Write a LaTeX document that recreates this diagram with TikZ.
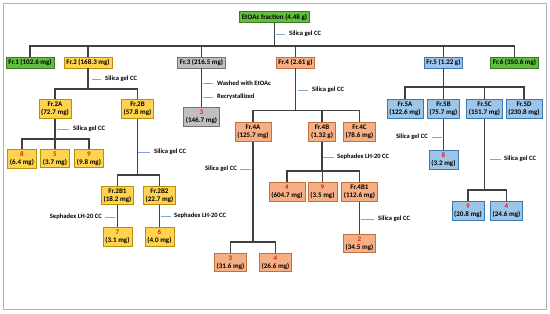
\documentclass[tikz,border=0pt]{standalone}
\usepackage{fontspec}
\setmainfont{Carlito}

\definecolor{fgreen}{HTML}{62BE40}
\definecolor{fgreenline}{HTML}{3A7A22}
\definecolor{fyellow}{HTML}{FDD34F}
\definecolor{fyellowline}{HTML}{B8900A}
\definecolor{fgray}{HTML}{BFBFBF}
\definecolor{fgrayline}{HTML}{737373}
\definecolor{forange}{HTML}{F6AE84}
\definecolor{forangeline}{HTML}{C2703E}
\definecolor{fblue}{HTML}{9CC5E8}
\definecolor{fblueline}{HTML}{3A78B4}
\definecolor{cpdred}{HTML}{E3201B}
\definecolor{linkgray}{HTML}{404040}
\definecolor{tickblue}{HTML}{7FA7D6}

\newcommand{\cpd}[1]{\textcolor{cpdred}{#1}}

\begin{document}
\begin{tikzpicture}[x=0.03cm, y=-0.03cm,
    box/.style={draw, line width=0.6pt, align=center, inner xsep=2pt, inner ysep=2pt,
                font=\bfseries\fontsize{6}{7}\selectfont},
    gbox/.style={box, fill=fgreen, draw=fgreenline},
    ybox/.style={box, fill=fyellow, draw=fyellowline},
    sbox/.style={box, fill=fgray, draw=fgrayline},
    obox/.style={box, fill=forange, draw=forangeline},
    bbox/.style={box, fill=fblue, draw=fblueline},
    note/.style={inner sep=0pt, font=\bfseries\fontsize{5.6}{6.6}\selectfont},
    link/.style={draw=linkgray, line width=1.1pt},
    tick/.style={draw=tickblue, line width=0.5pt}]

   \useasboundingbox (0,0) rectangle (550,314);
   \draw[gray!60, line width=0.8pt] (3,3) rectangle (546,309);

   % EtOAc fraction and first column
   \node[gbox] (etoac) at (274.5,17) {EtOAc fraction (4.48 g)};
   \node[note, anchor=west] (n0) at (289,34) {Silica gel CC};
   \draw[tick] (n0.west) ++(-4,0) -- ++(-9,0);
   \coordinate (b0) at (274.5,46);

   \node[gbox] (fr1) at (30,62.5) {Fr.1 (102.6 mg)};
   \node[ybox] (fr2) at (88,62.5) {Fr.2 (168.3 mg)};
   \node[sbox] (fr3) at (201.5,62.5) {Fr.3 (216.5 mg)};
   \node[obox] (fr4) at (295.5,62.5) {Fr.4 (2.61 g)};
   \node[bbox] (fr5) at (443.5,62.5) {Fr.5 (1.22 g)};
   \node[gbox] (fr6) at (514.5,62.5) {Fr.6 (350.6 mg)};

   \draw[link] (etoac) -- (b0);
   \foreach \c in {fr1,fr2,fr3,fr4,fr5,fr6} {
       \draw[link] (b0) -| (\c);
   }

   % Fr.2 branch
   \node[note, anchor=west] (n2) at (105,79) {Silica gel CC};
   \draw[tick] (n2.west) ++(-4,0) -- ++(-9,0);
   \coordinate (b2) at (88,89);
   \node[ybox] (fr2a) at (55,109) {Fr.2A\\(72.7 mg)};
   \node[ybox] (fr2b) at (137.5,109) {Fr.2B\\(57.8 mg)};
   \draw[link] (fr2) -- (b2);
   \foreach \c in {fr2a,fr2b} {
       \draw[link] (b2) -| (\c);
   }

   \node[note, anchor=west] (n2a) at (73,129) {Silica gel CC};
   \draw[tick] (n2a.west) ++(-4,0) -- ++(-12,0);
   \coordinate (b2a) at (55,139);
   \node[ybox] (c8a) at (22,158.5) {\cpd{8}\\(6.4 mg)};
   \node[ybox] (c5) at (55,158.5) {\cpd{5}\\(3.7 mg)};
   \node[ybox] (c9a) at (89,158.5) {\cpd{9}\\(9.8 mg)};
   \draw[link] (fr2a) -- (b2a);
   \foreach \c in {c8a,c5,c9a} {
       \draw[link] (b2a) -| (\c);
   }

   \node[note, anchor=west] (n2b) at (154,152) {Silica gel CC};
   \draw[tick] (n2b.west) ++(-4,0) -- ++(-12,0);
   \coordinate (b2b) at (137.5,175);
   \node[ybox] (fr2b1) at (117.5,195.5) {Fr.2B1\\(18.2 mg)};
   \node[ybox] (fr2b2) at (159.5,195.5) {Fr.2B2\\(22.7 mg)};
   \draw[link] (fr2b) -- (b2b);
   \foreach \c in {fr2b1,fr2b2} {
       \draw[link] (b2b) -| (\c);
   }

   \node[note, anchor=east] (n2b1) at (102,217) {Sephadex LH-20 CC};
   \draw[tick] (n2b1.east) ++(3,0) -- ++(10,0);
   \node[ybox] (c7) at (117.5,237) {\cpd{7}\\(3.1 mg)};
   \draw[link] (fr2b1) -- (c7);

   \node[note, anchor=west] (n2b2) at (174,216) {Sephadex LH-20 CC};
   \draw[tick] (n2b2.west) ++(-3,0) -- ++(-10,0);
   \node[ybox] (c6) at (159.5,237) {\cpd{6}\\(4.0 mg)};
   \draw[link] (fr2b2) -- (c6);

   % Fr.3 branch
   \node[note, anchor=west] (n3a) at (217,83) {Washed with EtOAc};
   \draw[tick] (n3a.west) ++(-4,0) -- ++(-10,0);
   \node[note, anchor=west] (n3b) at (217,97) {Recrystallized};
   \draw[tick] (n3b.west) ++(-4,0) -- ++(-10,0);
   \node[sbox] (c3) at (201.5,117) {\cpd{3}\\(146.7 mg)};
   \draw[link] (fr3) -- (c3);

   % Fr.4 branch
   \node[note, anchor=west] (n4) at (312,90) {Silica gel CC};
   \draw[tick] (n4.west) ++(-4,0) -- ++(-10,0);
   \coordinate (b4) at (295.5,110.5);
   \node[obox] (fr4a) at (253,132) {Fr.4A\\(125.7 mg)};
   \node[obox] (fr4b) at (322,132) {Fr.4B\\(1.32 g)};
   \node[obox] (fr4c) at (359.5,132) {Fr.4C\\(78.6 mg)};
   \draw[link] (fr4) -- (b4);
   \foreach \c in {fr4a,fr4b,fr4c} {
       \draw[link] (b4) -| (\c);
   }

   \node[note, anchor=east] (n4a) at (237,169) {Silica gel CC};
   \draw[tick] (n4a.east) ++(3,0) -- ++(11,0);
   \coordinate (b4a) at (253,242);
   \node[obox] (c3b) at (230.5,262.5) {\cpd{3}\\(31.6 mg)};
   \node[obox] (c4b) at (275.5,262.5) {\cpd{4}\\(26.6 mg)};
   \draw[link] (fr4a) -- (b4a);
   \foreach \c in {c3b,c4b} {
       \draw[link] (b4a) -| (\c);
   }

   \node[note, anchor=west] (n4b) at (337,157) {Sephadex LH-20 CC};
   \draw[tick] (n4b.west) ++(-3,0) -- ++(-11,0);
   \coordinate (b4b) at (322,171);
   \node[obox] (c4a) at (287,192) {\cpd{4}\\(604.7 mg)};
   \node[obox] (c9b) at (322.5,192) {\cpd{9}\\(3.5 mg)};
   \node[obox] (fr4b1) at (359.5,192) {Fr.4B1\\(112.6 mg)};
   \draw[link] (fr4b) -- (b4b);
   \foreach \c in {c4a,c9b,fr4b1} {
       \draw[link] (b4b) -| (\c);
   }

   \node[note, anchor=west] (n4b1) at (378,219) {Silica gel CC};
   \draw[tick] (n4b1.west) ++(-4,0) -- ++(-13,0);
   \node[obox] (c2) at (359.5,243.5) {\cpd{2}\\(34.5 mg)};
   \draw[link] (fr4b1) -- (c2);

   % Fr.5 branch
   \coordinate (b5) at (443.5,87);
   \node[bbox] (fr5a) at (405,109) {Fr.5A\\(122.6 mg)};
   \node[bbox] (fr5b) at (443.5,109) {Fr.5B\\(75.7 mg)};
   \node[bbox] (fr5c) at (484.5,109) {Fr.5C\\(151.7 mg)};
   \node[bbox] (fr5d) at (524,109) {Fr.5D\\(230.8 mg)};
   \draw[link] (fr5) -- (b5);
   \foreach \c in {fr5a,fr5b,fr5c,fr5d} {
       \draw[link] (b5) -| (\c);
   }

   \node[note, anchor=east] (n5b) at (428,137) {Silica gel CC};
   \draw[tick] (n5b.east) ++(4,0) -- ++(10,0);
   \node[bbox] (c8b) at (443.5,159.5) {\cpd{8}\\(3.2 mg)};
   \draw[link] (fr5b) -- (c8b);

   \node[note, anchor=west] (n5c) at (504,159) {Silica gel CC};
   \draw[tick] (n5c.west) ++(-3,0) -- ++(-11,0);
   \coordinate (b5c) at (484.5,190);
   \node[bbox] (c9c) at (468,211) {\cpd{9}\\(20.8 mg)};
   \node[bbox] (c4c) at (506.5,211) {\cpd{4}\\(24.6 mg)};
   \draw[link] (fr5c) -- (b5c);
   \foreach \c in {c9c,c4c} {
       \draw[link] (b5c) -| (\c);
   }
\end{tikzpicture}
\end{document}
